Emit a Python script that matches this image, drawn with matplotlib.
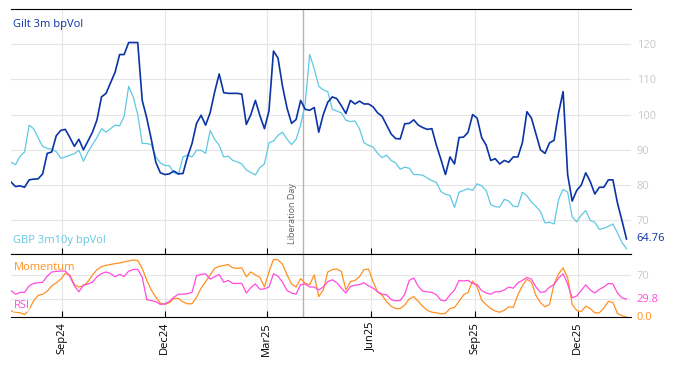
import numpy as np
import pandas as pd
import matplotlib
matplotlib.use("Agg")
import matplotlib.pyplot as plt
import matplotlib.dates as mdates
import matplotlib.transforms as mtransforms

plt.rcParams["font.family"] = ["Open Sans", "DejaVu Sans"]

# observation dates (every 4 days)
dates = pd.date_range("2024-07-18", periods=137, freq="4D")

gilt_3m = [
    80.9, 79.6, 79.8, 79.4, 81.5, 81.7, 81.8, 83.2, 89.0, 89.4,
    94.0, 95.5, 95.8, 93.5, 91.0, 93.0, 90.0, 92.5, 95.0, 98.5,
    105.0, 106.0, 109.0, 112.0, 117.0, 117.0, 120.4, 120.4, 120.4, 104.0,
    99.0, 93.0, 86.5, 83.5, 83.0, 83.2, 84.0, 83.2, 83.3, 88.0,
    91.8, 97.5, 99.8, 97.0, 100.5, 106.4, 111.5, 106.2, 106.0, 106.0,
    106.0, 105.8, 97.2, 100.0, 104.0, 99.7, 96.0, 101.0, 118.0, 116.0,
    108.0, 101.8, 97.5, 98.6, 104.0, 101.5, 101.2, 102.0, 95.0, 100.0,
    103.5, 105.0, 104.5, 102.5, 100.3, 104.0, 103.0, 103.8, 103.0, 103.0,
    102.2, 100.5, 99.5, 97.0, 94.5, 93.2, 93.1, 97.4, 97.5, 98.5,
    97.0, 96.3, 95.8, 96.0, 91.3, 87.3, 83.0, 88.0, 86.0, 93.5,
    93.6, 95.0, 100.0, 99.0, 93.5, 91.3, 87.0, 87.5, 86.0, 87.0,
    86.5, 88.0, 88.0, 92.0, 100.8, 99.0, 94.5, 90.0, 89.0, 92.0,
    92.7, 100.5, 106.5, 83.0, 75.5, 78.5, 80.0, 83.5, 81.0, 77.5,
    79.4, 79.4, 81.5, 81.5, 75.0, 70.0, 64.76,
]

gbp_3m10y = [
    86.5, 85.8, 88.2, 89.4, 97.0, 96.0, 93.4, 91.0, 90.4, 90.2,
    89.5, 87.6, 88.0, 88.5, 88.9, 89.9, 86.8, 89.4, 91.5, 93.5,
    96.0, 95.0, 96.0, 97.0, 96.8, 99.5, 108.0, 105.0, 100.0, 91.8,
    91.8, 91.5, 88.0, 86.3, 85.6, 85.5, 83.5, 83.0, 88.0, 88.5,
    88.0, 89.9, 89.9, 89.0, 95.5, 93.0, 91.3, 88.0, 88.2, 87.0,
    86.6, 86.0, 84.3, 83.6, 82.9, 85.0, 86.0, 92.0, 92.5, 94.1,
    95.0, 93.0, 91.5, 93.0, 97.0, 103.0, 117.0, 113.0, 108.0, 107.0,
    106.5, 101.5, 101.0, 100.5, 98.4, 98.0, 98.2, 96.0, 92.0, 91.3,
    90.8, 89.0, 87.8, 88.5, 87.0, 86.3, 84.5, 85.1, 84.8, 83.0,
    83.0, 82.8, 82.0, 81.3, 80.8, 78.2, 77.4, 77.1, 73.7, 78.0,
    78.5, 79.0, 78.5, 80.4, 79.8, 78.5, 74.5, 73.9, 73.8, 76.0,
    75.5, 74.0, 73.9, 78.0, 77.0, 75.2, 74.0, 72.5, 69.3, 69.5,
    69.0, 76.0, 78.8, 78.0, 71.0, 69.6, 71.5, 72.8, 70.0, 69.5,
    67.5, 67.8, 68.3, 69.0, 66.5, 63.8, 62.0,
]

momentum = [
    10, 8, 7, 4, 12, 27, 36, 38, 43, 52,
    57, 63, 73, 70, 54, 50, 52, 59, 70, 79,
    84, 86, 87.5, 89, 90, 92, 93.5, 95, 94, 81,
    61, 45, 33, 23, 21, 24, 31, 31, 25, 22,
    22, 33, 48, 59, 70, 81, 84.5, 86, 87.5, 82,
    81, 82, 67, 75, 70, 66, 50, 75, 96, 95,
    88, 70, 55, 50, 64, 56, 54, 70, 34, 45,
    75, 79, 80, 76, 45, 59, 61, 67, 79, 80,
    59, 42, 36, 25.5, 18, 14, 14, 20, 30, 34,
    26, 17.5, 11, 8, 7, 5.3, 6, 14, 16, 26,
    37, 41, 60, 50, 28, 20.7, 14, 10, 8, 11,
    17, 16, 37, 52, 63, 58, 36, 24, 17, 21,
    55, 72, 82, 65, 21, 11, 9, 18, 14, 7,
    7, 15, 26, 24, 6, 2, 0.0,
]

rsi = [
    44, 38, 41, 41, 52, 56, 57, 58, 68, 75,
    76, 76.5, 76.6, 68, 52, 42, 53, 55, 58, 67,
    72.5, 75, 72.5, 67, 71, 67.5, 76.5, 79, 79.5, 66,
    29, 27.5, 25.5, 21, 22, 26, 33, 38, 38, 39,
    41, 69, 71, 72, 63, 67, 71, 58, 61, 56,
    56, 56, 40, 49, 55, 46, 47, 50, 72, 68,
    58, 44, 40, 38, 54, 55, 50, 50, 45, 50,
    59, 62, 57, 48, 40, 51, 53, 54, 57, 52,
    48, 42, 38, 37, 29, 27, 27.5, 38, 61, 65,
    51, 43, 42, 41, 37, 28, 27, 37, 45, 61,
    60, 61, 56, 54, 44, 40, 38, 42, 42, 45,
    50, 48, 57, 61, 66, 63, 50, 41, 42, 50,
    54, 65, 72, 55, 32, 35, 44, 53.6, 45, 40,
    46, 50, 56, 55, 40, 32, 29.8,
]

event_date = pd.Timestamp("2025-04-02")
event_name = "Liberation Day"

c_gilt = "#0a33a6"
c_gbp = "#5fc8e2"
c_mom = "#ff9120"
c_rsi = "#ff4cdc"
c_grid = "#e6e6e6"
c_tick = "#c8c8c8"

fig = plt.figure(figsize=(6.74, 3.66), dpi=100)
ax = fig.add_axes([11 / 674, 1 - 254 / 366, 620 / 674, 245 / 366])
ax2 = fig.add_axes([11 / 674, 1 - 317 / 366, 620 / 674, 63 / 366], sharex=ax)

# main panel
ax.plot(dates, gbp_3m10y, color=c_gbp, lw=0.9, zorder=3)
ax.plot(dates, gilt_3m, color=c_gilt, lw=1.2, zorder=4)
ax.axvline(event_date, color="#b4b4b4", lw=1.0, zorder=2)
ax.text(event_date - pd.Timedelta(days=5), 63.4, event_name, rotation=90,
        ha="right", va="bottom", fontsize=6.5, color="#606060")

ax.set_xlim(pd.Timestamp("2024-07-18"), pd.Timestamp("2026-01-17"))
ax.set_ylim(60.5, 129.9)
ax.set_yticks([70, 80, 90, 100, 110, 120])
ax.yaxis.tick_right()
ax.tick_params(axis="y", length=0, labelcolor=c_tick, labelsize=8, pad=4)
ax.tick_params(axis="x", direction="in", length=4, labelbottom=False)
ax.grid(True, color=c_grid, lw=0.8)
ax.set_axisbelow(True)
for s in ["left", "right"]:
    ax.spines[s].set_visible(False)

ax.text(0.004, 0.935, "Gilt 3m bpVol", transform=ax.transAxes, color=c_gilt,
        fontsize=8, va="center", ha="left")
ax.text(0.004, 0.057, "GBP 3m10y bpVol", transform=ax.transAxes, color=c_gbp,
        fontsize=8, va="center", ha="left")
tr = mtransforms.blended_transform_factory(ax.transAxes, ax.transData)
ax.text(1.009, gilt_3m[-1], f"{gilt_3m[-1]:.2f}", transform=tr, color=c_gilt,
        fontsize=8, va="center", ha="left")

# indicator panel
ax2.plot(dates, momentum, color=c_mom, lw=0.9, zorder=3)
ax2.plot(dates, rsi, color=c_rsi, lw=0.9, zorder=4)
ax2.axvline(event_date, color="#b4b4b4", lw=1.0, zorder=2)
ax2.set_ylim(0, 105)
ax2.set_yticks([30, 70])
ax2.set_yticklabels(["", "70"])
ax2.yaxis.tick_right()
ax2.tick_params(axis="y", length=0, labelcolor=c_tick, labelsize=8, pad=4)
ax2.tick_params(axis="x", direction="in", length=4, labelsize=8, rotation=90)
ax2.grid(True, color=c_grid, lw=0.8)
ax2.set_axisbelow(True)
for s in ["left", "right"]:
    ax2.spines[s].set_visible(False)
ax2.xaxis.set_major_locator(mdates.MonthLocator(bymonth=[3, 6, 9, 12]))
ax2.xaxis.set_major_formatter(mdates.DateFormatter("%b%y"))

tr2 = mtransforms.blended_transform_factory(ax2.transAxes, ax2.transData)
ax2.text(1.009, rsi[-1], f"{rsi[-1]:.1f}", transform=tr2, color=c_rsi,
         fontsize=8, va="center", ha="left")
ax2.text(1.009, momentum[-1], f"{momentum[-1]:.1f}", transform=tr2, color=c_mom,
         fontsize=8, va="center", ha="left")
ax2.text(0.004, 0.78, "Momentum", transform=ax2.transAxes, color=c_mom,
         fontsize=8, va="center", ha="left", zorder=5)
ax2.text(0.004, 0.175, "RSI", transform=ax2.transAxes, color=c_rsi,
         fontsize=8, va="center", ha="left", zorder=5,
         bbox=dict(facecolor="white", edgecolor="none", alpha=0.6, pad=0.5))

fig.savefig("out.png", dpi=100)
